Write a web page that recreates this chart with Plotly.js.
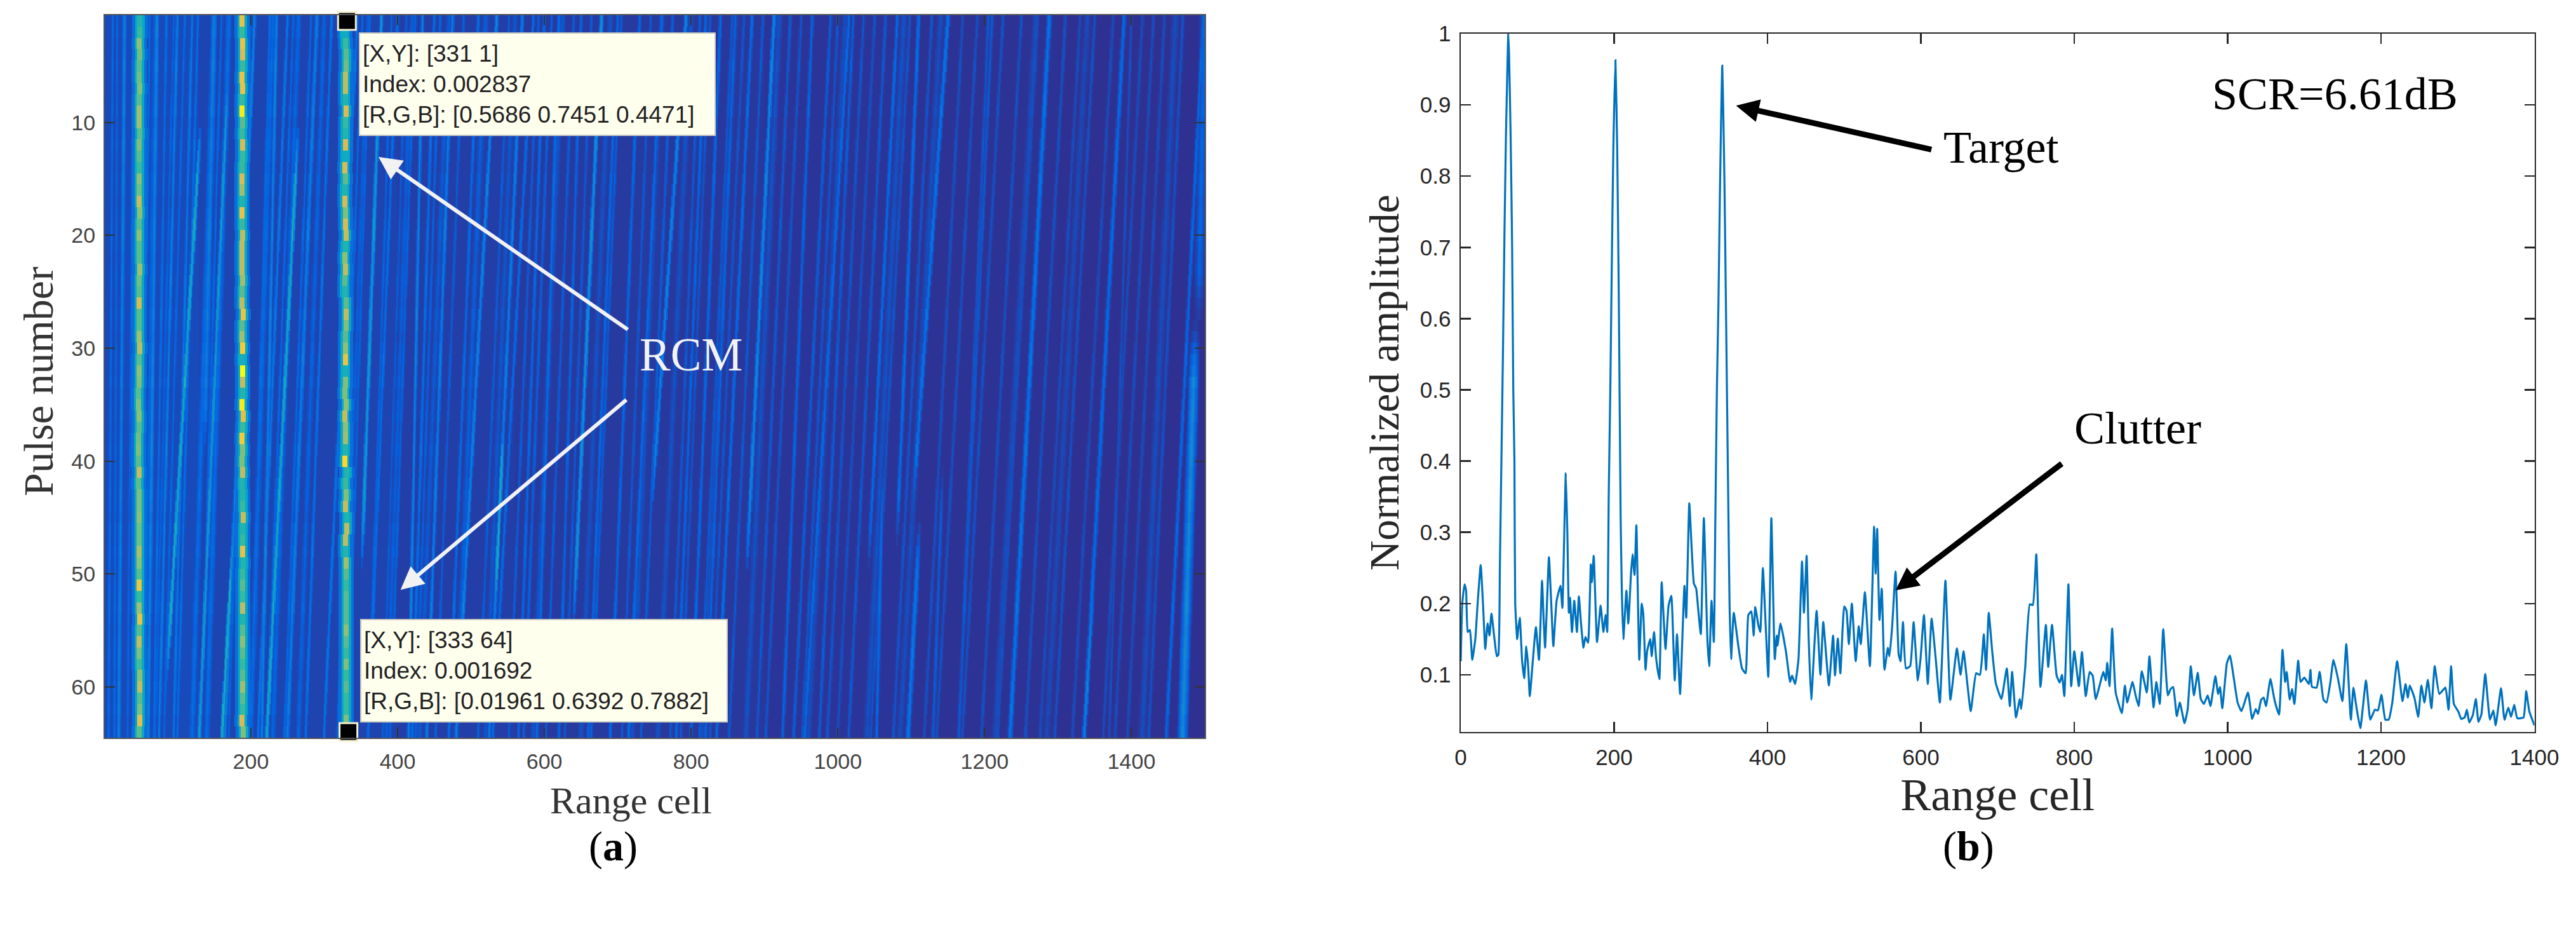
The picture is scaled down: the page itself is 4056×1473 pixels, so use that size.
<!DOCTYPE html>
<html><head><meta charset="utf-8">
<script src="https://cdn.plot.ly/plotly-3.0.1.min.js"></script>
<style>html,body{margin:0;padding:0;background:#fff}</style></head>
<body><div id="chart" style="width:4056px;height:1473px"></div>
<script>
// ---- panel (b): range profile
const profileCells = [0,2,5,7,9,12,15,19,22,26,29,32,35,37.5,40,44,47,49,51,53,55,57,59,61,62,63,65,67,68.5,70,71,73.6,75,77,80,82.7,85.5,88,90,94,98,102,106,108,110,115,118,120.7,125,130,132.5,135,137,139,141,142.5,145,148,151.5,154,157,160,162.5,166,169.6,171,173.4,177.7,182.4,186,189,191,193,195,197,199,201.7,204,206,208.5,210,212,216,218.5,222,224,226.6,229,232.8,236,238,241,243,247,249,252,255,259,262,267,271,274.6,279,282,286,291.7,294,298,301,304,307,309.7,313,317,321.6,324,327,330,332,334,336,338,339.5,341,342.5,344,346,348.7,350.5,352.5,356,362,366.7,371.5,375,379,382,384,388,390.5,394,397,401,405,409.5,412,413,417,424,429.5,432,436,440.4,445,447.5,451,453.7,457,464,469,472.7,480,485.5,488,491.7,495,500,503,506,510,515,519,521.6,527,533.5,539,541,543,546,549,552.5,557,559,562.5,567,571,573.4,576.7,580.5,586,590.5,596,599.5,604,609,614,619.4,624.7,632,638.5,647,651.7,655.6,665,672,677,680,682,685,688.5,693,697.7,705,712,716,719,724,729,731,736,742,746,750.5,755.9,763,766,771,777,781,784,787,792.4,796,800,806,810,815,820,824,828,838,841,843,846,849.4,854,862,866,869,876,880,884,888,894.6,898,903.4,907,911.5,916,922,925.6,929,933.7,937.7,943.8,947.8,952,956,961,965,969,974,977.6,984,987.6,990,993,999,1003,1013,1018,1026.5,1032,1036.6,1039.6,1043.7,1047,1050,1055.8,1061,1067,1071.5,1075,1077,1081,1084,1087,1092,1095,1100,1106,1108,1110,1116,1120,1125,1129,1134,1138,1144,1149.6,1154.7,1160.7,1164,1168,1173,1180.4,1186,1192,1196,1200.6,1205.6,1210,1214.7,1221,1228,1232,1235,1237.4,1243.5,1248.5,1252.6,1256.6,1261,1265.7,1270,1276,1284,1288,1291.4,1295,1301,1304.5,1309,1312,1315,1319.6,1323.7,1327,1330.8,1335.9,1342,1346.5,1349.5,1356.5,1361,1366,1369.6,1373.7,1377.7,1385.8,1389.3,1393.3,1400];
const profileAmps = [0.119,0.201,0.227,0.218,0.16,0.163,0.121,0.15,0.2,0.254,0.2,0.136,0.172,0.155,0.186,0.15,0.126,0.128,0.25,0.4,0.55,0.72,0.86,0.96,1,0.97,0.86,0.7,0.5,0.4,0.2,0.15,0.165,0.18,0.12,0.095,0.14,0.11,0.07,0.12,0.167,0.121,0.232,0.18,0.138,0.265,0.2,0.14,0.204,0.225,0.194,0.3,0.383,0.3,0.187,0.208,0.16,0.204,0.16,0.21,0.17,0.138,0.153,0.145,0.255,0.23,0.267,0.146,0.197,0.16,0.184,0.16,0.354,0.5,0.68,0.84,0.963,0.84,0.64,0.32,0.22,0.15,0.218,0.172,0.242,0.269,0.24,0.31,0.121,0.2,0.185,0.107,0.133,0.15,0.126,0.16,0.121,0.094,0.23,0.136,0.197,0.211,0.092,0.157,0.073,0.225,0.18,0.341,0.28,0.228,0.221,0.191,0.157,0.32,0.15,0.112,0.204,0.146,0.32,0.5,0.62,0.78,0.88,0.955,0.88,0.78,0.6,0.354,0.2,0.122,0.187,0.14,0.109,0.102,0.184,0.189,0.155,0.195,0.17,0.16,0.25,0.184,0.097,0.32,0.122,0.155,0.141,0.172,0.133,0.09,0.099,0.087,0.122,0.259,0.187,0.267,0.15,0.065,0.19,0.1,0.174,0.085,0.155,0.099,0.151,0.102,0.196,0.19,0.143,0.2,0.119,0.168,0.143,0.216,0.112,0.308,0.242,0.305,0.177,0.221,0.107,0.138,0.126,0.167,0.245,0.129,0.119,0.174,0.109,0.112,0.174,0.092,0.122,0.184,0.087,0.179,0.122,0.061,0.232,0.065,0.137,0.1,0.133,0.049,0.102,0.1,0.128,0.157,0.107,0.187,0.133,0.088,0.066,0.109,0.056,0.104,0.04,0.066,0.052,0.11,0.199,0.198,0.269,0.083,0.17,0.111,0.17,0.099,0.089,0.1,0.07,0.227,0.084,0.133,0.084,0.132,0.07,0.104,0.099,0.066,0.104,0.092,0.117,0.084,0.165,0.075,0.046,0.085,0.061,0.09,0.071,0.056,0.105,0.075,0.126,0.054,0.09,0.059,0.164,0.071,0.08,0.083,0.042,0.061,0.032,0.051,0.112,0.071,0.103,0.066,0.059,0.071,0.056,0.098,0.073,0.083,0.053,0.116,0.127,0.061,0.049,0.075,0.038,0.052,0.045,0.065,0.068,0.056,0.094,0.065,0.044,0.135,0.09,0.104,0.065,0.08,0.059,0.12,0.09,0.096,0.087,0.107,0.083,0.082,0.104,0.065,0.061,0.09,0.121,0.094,0.063,0.143,0.037,0.082,0.054,0.025,0.092,0.037,0.051,0.05,0.072,0.037,0.037,0.061,0.119,0.063,0.087,0.068,0.085,0.068,0.041,0.085,0.061,0.093,0.053,0.112,0.073,0.082,0.051,0.112,0.059,0.048,0.038,0.04,0.051,0.033,0.043,0.066,0.034,0.044,0.101,0.037,0.05,0.029,0.081,0.037,0.054,0.041,0.058,0.039,0.04,0.077,0.049,0.029];

// ---- panel (a): data tips and tick labels
const tipCells = [331,333];
const tipPulses = [1,64];
const tipTexts = ["[X,Y]: [331 1]<br>Index: 0.002837<br>[R,G,B]: [0.5686 0.7451 0.4471]","[X,Y]: [333 64]<br>Index: 0.001692<br>[R,G,B]: [0.01961 0.6392 0.7882]"];
const pulseTicks = [10,20,30,40,50,60];
const cellTicksA = [200,400,600,800,1000,1200,1400];
const cellTicksB = [0,200,400,600,800,1000,1200,1400];
const ampTicks = [0.1,0.2,0.3,0.4,0.5,0.6,0.7,0.8,0.9,1];
const ampTickText = ["0.1","0.2","0.3","0.4","0.5","0.6","0.7","0.8","0.9","1"];

// ---- panel (a): per-pulse level of the three target tracks (pulses 1..64)
const track1Level = [.45,.5,.62,.58,.55,.58,.6,.55,.65,.65,.55,.6,.55,.5,.62,.58,.72,.62,.55,.62,.55,.55,.65,.58,.55,.75,.55,.55,.65,.7,.55,.62,.6,.55,.6,.62,.55,.58,.6,.55,.72,.55,.6,.6,.62,.58,.58,.68,.62,.55,.82,.5,.65,.8,.55,.72,.6,.52,.62,.72,.55,.6,.78,.55];
const track2Level = [.8,.5,.8,.75,.5,.8,.8,.5,.95,.55,.5,.75,.5,.5,.75,.65,.45,.8,.5,.7,.7,.7,.7,.65,.55,.7,.8,.55,.65,.85,.42,1,.72,.45,.95,.78,.5,.85,.6,.6,.7,.45,.45,.5,.72,.45,.5,.8,.45,.5,.55,.5,.7,.45,.55,.62,.55,.5,.55,.65,.55,.5,.75,.6];
const track3Level = [.3,.4,.5,.55,.58,.7,.7,.45,.75,.5,.45,.75,.4,.75,.55,.45,.75,.6,.75,.72,.45,.62,.7,.55,.45,.55,.7,.6,.55,.62,.8,.42,.6,.6,.62,.72,.62,.65,.45,.9,.45,.5,.6,.72,.45,.7,.7,.45,.65,.55,.5,.55,.55,.55,.62,.55,.5,.6,.5,.55,.5,.5,.6,.45];
const track1Cell = [49,49,48,49,48,48,49,48,48,48,49,48,48,48,48,48,48,49,48,48,48,48,49,48,48,48,48,48,48,49,48,48,48,47,47,48,48,47,47,47,48,47,48,48,48,48,48,48,48,48,48,48,48,49,48,48,48,48,49,49,49,49,49,48];
const track2Cell = [188,188,189,189,189,188,189,188,188,189,188,189,189,188,188,188,188,188,188,189,188,188,188,189,188,188,190,188,188,189,188,189,189,189,188,190,189,188,189,188,189,188,189,189,190,189,189,189,190,189,189,189,189,189,189,189,189,189,189,189,189,189,188,190];
const track3Cell = [329,328,329,330,330,329,329,329,330,329,329,329,329,328,329,328,328,329,329,330,329,328,329,328,328,330,330,330,329,329,329,329,329,328,330,328,329,329,329,328,331,329,330,329,331,331,329,329,330,330,330,330,330,330,330,330,330,330,330,330,330,330,330,330];

// ---- panel (a): background bands and migrating streaks
const bandStart = [1,130,260,400,560,760,900,1100,1300];
const bandLevel = [.07,.06,.055,.045,.035,.03,.025,.02,.015];
const rowGain = [1,1.05,.95,1,1.08,1,.95,1,1.05,.92,1,1.06,1,.95,1.04,1,.93,1,1.05,1.08,1,.94,1,1.04,1,.96,1.06,1,.92,1,1.05,1,1.08,.95,1,1.03,.94,1,1.06,1,.95,1,1.05,1,.93,1.04,1,1.07,1,.95,1,1.03,1.08,1,.94,1,1.05,1,.96,1.04,1,1.06,.95,1];
const streakTop    = [12,28,72,85,140,172,150,214,272,235,290,310,378,434,475,535,570,570,585,678,793,620,650,730,840,883,913,760,965,1021,1081,1150,1288,1390,1395,1110,1148,1075,1015,1065,1400,1498,1500,1500,1205,990,1165,1210,100,120,205,250,345,400,450,510,600,700,820,860];
const streakBottom = [6,20,60,68,81,130,128,161,222,215,250,275,343,415,440,480,525,525,530,633,725,590,620,690,800,835,865,715,925,975,1030,1080,1235,1336,1336,1070,1096,1053,955,1015,1370,1448,1470,1480,1165,940,1130,1165,75,95,165,210,300,360,420,470,565,660,780,820];
const streakLevel  = [.16,.22,.24,.17,.42,.34,.22,.46,.42,.24,.22,.18,.34,.24,.22,.24,.44,.22,.16,.3,.24,.17,.14,.15,.15,.16,.26,.16,.14,.12,.16,.19,.19,.16,.24,.17,.2,.16,.16,.11,.09,.15,.27,.14,.1,.12,.12,.11,.22,.2,.24,.2,.19,.17,.17,.16,.15,.15,.14,.14];
const streakHalf   = [3,4,4,3,3,3,6,2.5,3,3,4,3,3,2.5,3,3,2.5,3,3,3,3,3,3,3,3,3,3,3,3,3,3,3.5,4,3.5,3,3,4,3,3,3,2,3,8,8,3,3,3,3,3,3,3,3,3,3,3,3,3,3,3,3];
const streakFirst  = [1,1,1,1,10,5,1,46,10,1,1,1,1,1,1,1,36,1,1,1,1,1,1,1,1,1,1,1,1,1,1,1,1,1,50,1,45,40,1,1,1,1,28,1,1,1,40,1,1,1,1,1,1,1,1,1,1,1,1,1];
const streakLast   = [64,64,64,64,60,64,40,64,64,64,64,64,50,64,64,64,54,64,64,55,45,64,64,64,64,64,50,64,64,64,50,45,64,64,64,48,64,64,64,64,64,64,64,28,64,64,64,64,64,64,64,64,64,64,64,64,64,64,64,64];
const thinTop    = [18,40,62,95,110,128,160,200,226,258,282,300,352,362,392,412,424,458,490,520,552,592,610,640,664,705,745,775,812,826,856,872,898,935,950,1000,1035,1050,1098,1128,1170,1190,1225,1250,1272,1310,1330,1350,1375,1415,1430,1445,1470];
const thinBottom = [14,32,50,70,82,100,132,170,200,222,246,265,318,332,360,380,390,425,452,480,510,552,572,602,628,664,706,732,772,786,812,826,852,890,902,952,986,1000,1045,1076,1118,1135,1170,1196,1218,1256,1276,1296,1320,1362,1378,1395,1424];
const thinLevel  = [.15,.14,.16,.14,.15,.17,.15,.14,.16,.15,.15,.14,.15,.14,.14,.12,.14,.13,.12,.13,.12,.12,.13,.12,.11,.12,.11,.12,.11,.1,.11,.1,.11,.11,.1,.1,.1,.09,.1,.1,.09,.09,.09,.09,.09,.09,.08,.09,.08,.08,.08,.08,.09];
const wideTop    = [70,150,170,230,265,300,360,420,470,520,560,625,690,760,800,860,920,1010,1090,1140,1270,1340,1460];
const wideBottom = [55,120,140,200,230,265,325,385,430,480,520,585,650,720,755,815,875,960,1040,1085,1215,1285,1415];
const wideLevel  = [.14,.16,.16,.15,.14,.13,.12,.12,.11,.12,.1,.1,.09,.09,.09,.09,.09,.08,.09,.08,.08,.07,.08];

const cells = Array.from({length:1500},(_,i)=>i+1);
const pulses = Array.from({length:64},(_,i)=>i+1);
const z = pulses.map(p=>{
  const row = cells.map(c=>{let b=bandLevel[0];bandStart.forEach((s,k)=>{if(c>=s)b=bandLevel[k]});return b});
  const g=rowGain[p-1];
  const add=(center,level,half)=>{
    for(let c=Math.max(1,Math.floor(center-half));c<=Math.min(1500,Math.ceil(center+half));c++){
      const v=g*level*(1-Math.abs(c-center)/(half+1));
      if(v>row[c-1])row[c-1]=v;
    }
  };
  const pos=(a,b)=>a+(b-a)*(p-1)/63;
  wideTop.forEach((t,i)=>add(pos(t,wideBottom[i]),wideLevel[i],7));
  thinTop.forEach((t,i)=>add(pos(t,thinBottom[i]),thinLevel[i],3));
  streakTop.forEach((t,i)=>{
    const f=streakFirst[i],l=streakLast[i];
    if(p<f||p>l)return;
    const fade=Math.min(f===1?1:(p-f+1)/6,l===64?1:(l-p+1)/6,1);
    add(pos(t,streakBottom[i]),streakLevel[i]*fade,streakHalf[i]);
  });
  [[track1Cell,track1Level],[track2Cell,track2Level],[track3Cell,track3Level]].forEach(([tc,tl])=>{
    const c0=tc[p-1],l=tl[p-1];
    for(let c=c0-10;c<=c0+10;c++){
      const d=Math.abs(c-c0);
      let v=d<=3?l:(d<=6?Math.min(l,.38):(d<=10?.17:0));
      if(v>row[c-1])row[c-1]=v;
    }
  });
  return row;
});

const parula=[[0,'#352a87'],[.125,'#0363e1'],[.25,'#1485d4'],[.375,'#06a7c6'],[.5,'#38b99e'],[.625,'#92bf73'],[.75,'#d9ba56'],[.875,'#fcce2e'],[1,'#f9fb0e']];
const W=4056,H=1473;
const xd=(a,b)=>[a/W,b/W], yd=(t,b)=>[1-b/H,1-t/H];
const serif='"Liberation Serif", serif', sans='"Liberation Sans", Arial, sans-serif';
const traces=[
 {type:'heatmap',x:cells,y:pulses,z:z,zmin:0,zmax:1,colorscale:parula,showscale:false,zsmooth:false,xaxis:'x',yaxis:'y',hoverinfo:'skip'},
 {type:'scatter',mode:'markers',x:tipCells,y:tipPulses,xaxis:'x',yaxis:'y',cliponaxis:false,hoverinfo:'skip',
  marker:{symbol:'square',size:28,color:'#000',line:{color:'#f5f0d0',width:3}}},
 {type:'scatter',mode:'lines',x:profileCells,y:profileAmps,xaxis:'x2',yaxis:'y2',line:{color:'#0072bd',width:3.2,shape:'spline',smoothing:0.4},hoverinfo:'skip'}
];
const tickFontA={family:sans,size:34,color:'#444'}, tickFontB={family:sans,size:35,color:'#262626'};
const arrow=(xr,yr,x,y,ax,ay,color,w,size)=>({xref:xr,yref:yr,axref:xr,ayref:yr,x,y,ax,ay,text:'',showarrow:true,arrowhead:2,arrowcolor:color,arrowwidth:w,arrowsize:size});
const label=(xr,yr,x,y,text,size,color,extra)=>Object.assign({xref:xr,yref:yr,x,y,text,xanchor:'center',yanchor:'middle',showarrow:false,font:{family:serif,size,color}},extra||{});
const layout={
 width:W,height:H,margin:{l:0,r:0,t:0,b:0},paper_bgcolor:'#fff',plot_bgcolor:'#fff',showlegend:false,
 xaxis:{domain:xd(165,1897),range:[1,1500],tickvals:cellTicksA,ticks:'inside',ticklen:16,tickwidth:2,tickcolor:'#333',showline:true,mirror:'ticks',linecolor:'#555',linewidth:2,showgrid:false,zeroline:false,tickfont:tickFontA,ticklabelstandoff:6},
 yaxis:{domain:yd(24,1161),range:[64.5,0.5],tickvals:pulseTicks,ticks:'inside',ticklen:16,tickwidth:2,tickcolor:'#333',showline:true,mirror:'ticks',linecolor:'#555',linewidth:2,showgrid:false,zeroline:false,tickfont:tickFontA,ticklabelstandoff:6},
 xaxis2:{anchor:'y2',domain:xd(2300,3990.5),range:[0,1400],tickvals:cellTicksB,ticks:'inside',ticklen:16,tickwidth:2.5,tickcolor:'#262626',showline:true,mirror:'ticks',linecolor:'#262626',linewidth:2.5,showgrid:false,zeroline:false,tickfont:tickFontB,ticklabelstandoff:8,
   title:{text:'Range cell',font:{family:serif,size:72,color:'#262626'},standoff:6}},
 yaxis2:{anchor:'x2',domain:yd(53,1151.6),range:[0.02,1],tickvals:ampTicks,ticktext:ampTickText,ticks:'inside',ticklen:16,tickwidth:2.5,tickcolor:'#262626',showline:true,mirror:'ticks',linecolor:'#262626',linewidth:2.5,showgrid:false,zeroline:false,tickfont:tickFontB,ticklabelstandoff:6,
   title:{text:'Normalized amplitude',font:{family:serif,size:66,color:'#262626'},standoff:12}},
 annotations:[
  label('paper','paper',993/W,1-1260/H,'Range cell',60,'#333'),
  label('paper','paper',60/W,1-601/H,'Pulse number',66,'#333',{textangle:-90}),
  {xref:'x',yref:'y',x:347,y:2,xanchor:'left',yanchor:'top',text:tipTexts[0],showarrow:false,align:'left',valign:'middle',width:550,height:151,bgcolor:'#ffffee',bordercolor:'#c9c9c0',borderwidth:2,borderpad:4,font:{family:sans,size:37,color:'#222'}},
  {xref:'x',yref:'y',x:349,y:54,xanchor:'left',yanchor:'top',text:tipTexts[1],showarrow:false,align:'left',valign:'middle',width:567,height:151,bgcolor:'#ffffee',bordercolor:'#c9c9c0',borderwidth:2,borderpad:4,font:{family:sans,size:37,color:'#222'}},
  arrow('x','y',374,13.05,715,28.4,'#f2f2f2',6,1.2),
  arrow('x','y',404,51.4,713,34.5,'#f2f2f2',6,1.2),
  label('x','y',800,30.6,'RCM',73,'#f2f2f2'),
  arrow('x2','y2',359,0.899,615,0.837,'#000',9,0.8),
  arrow('x2','y2',567,0.2185,785,0.3975,'#000',9,0.8),
  label('x2','y2',1140,0.915,'SCR=6.61dB',72,'#000'),
  label('x2','y2',705,0.84,'Target',72,'#000'),
  label('x2','y2',883,0.446,'Clutter',72,'#000'),
  label('paper','paper',965/W,1-1332/H,'(<b>a</b>)',66,'#000'),
  label('paper','paper',3099/W,1-1332/H,'(<b>b</b>)',66,'#000')
 ]
};
Plotly.newPlot('chart',traces,layout,{staticPlot:true,displayModeBar:false});
</script></body></html>
